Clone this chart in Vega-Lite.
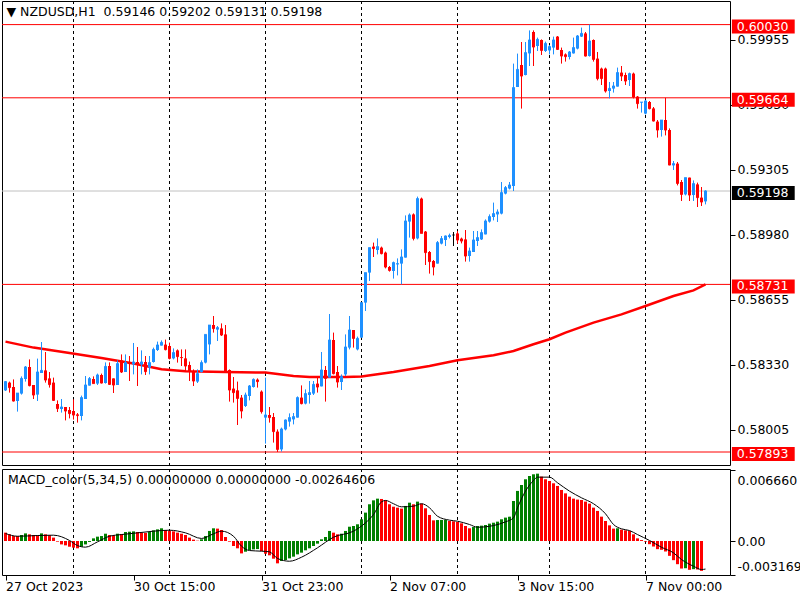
{
"$schema": "https://vega.github.io/schema/vega-lite/v6.json",
"padding": 0,
"background": "white",
"spacing": 2,
"config": {"view": {"stroke": "#000000", "strokeWidth": 1}, "font": "DejaVu Sans", "title": {"font": "DejaVu Sans", "fontSize": 12.5, "fontWeight": "normal", "color": "#000000"}},
"datasets": {
"bars": [
{"i":0,"o":0.58201,"h":0.58248,"l":0.58198,"c":0.58245,"m":0.00079,"t":"d"},
{"i":1,"o":0.58240,"h":0.58245,"l":0.58190,"c":0.58215,"m":0.00063,"t":"d"},
{"i":2,"o":0.58218,"h":0.58256,"l":0.58145,"c":0.58148,"m":0.00047,"t":"d"},
{"i":3,"o":0.58148,"h":0.58188,"l":0.58095,"c":0.58188,"m":0.00047,"t":"d"},
{"i":4,"o":0.58185,"h":0.58271,"l":0.58180,"c":0.58261,"m":0.00057,"t":"u"},
{"i":5,"o":0.58258,"h":0.58323,"l":0.58245,"c":0.58318,"m":0.00072,"t":"u"},
{"i":6,"o":0.58318,"h":0.58356,"l":0.58221,"c":0.58225,"m":0.00063,"t":"d"},
{"i":7,"o":0.58228,"h":0.58228,"l":0.58158,"c":0.58178,"m":0.00057,"t":"d"},
{"i":8,"o":0.58180,"h":0.58360,"l":0.58148,"c":0.58293,"m":0.00055,"t":"d"},
{"i":9,"o":0.58288,"h":0.58443,"l":0.58288,"c":0.58301,"m":0.00072,"t":"u"},
{"i":10,"o":0.58301,"h":0.58393,"l":0.58240,"c":0.58253,"m":0.00063,"t":"d"},
{"i":11,"o":0.58261,"h":0.58293,"l":0.58215,"c":0.58230,"m":0.00054,"t":"d"},
{"i":12,"o":0.58240,"h":0.58265,"l":0.58148,"c":0.58151,"m":0.00032,"t":"d"},
{"i":13,"o":0.58133,"h":0.58151,"l":0.58093,"c":0.58110,"m":-0.00006,"t":"d"},
{"i":14,"o":0.58108,"h":0.58158,"l":0.58090,"c":0.58118,"m":-0.00032,"t":"d"},
{"i":15,"o":0.58118,"h":0.58118,"l":0.58051,"c":0.58098,"m":-0.00041,"t":"d"},
{"i":16,"o":0.58103,"h":0.58118,"l":0.58061,"c":0.58085,"m":-0.00054,"t":"d"},
{"i":17,"o":0.58098,"h":0.58156,"l":0.58055,"c":0.58078,"m":-0.00063,"t":"d"},
{"i":18,"o":0.58081,"h":0.58088,"l":0.58040,"c":0.58075,"m":-0.00069,"t":"d"},
{"i":19,"o":0.58073,"h":0.58175,"l":0.58051,"c":0.58165,"m":-0.00054,"t":"u"},
{"i":20,"o":0.58158,"h":0.58273,"l":0.58158,"c":0.58228,"m":-0.00032,"t":"u"},
{"i":21,"o":0.58225,"h":0.58268,"l":0.58225,"c":0.58260,"m":-0.00009,"t":"u"},
{"i":22,"o":0.58258,"h":0.58271,"l":0.58235,"c":0.58235,"m":0.00025,"t":"u"},
{"i":23,"o":0.58235,"h":0.58285,"l":0.58228,"c":0.58278,"m":0.00041,"t":"u"},
{"i":24,"o":0.58278,"h":0.58285,"l":0.58235,"c":0.58238,"m":0.00047,"t":"u"},
{"i":25,"o":0.58238,"h":0.58341,"l":0.58235,"c":0.58321,"m":0.00069,"t":"u"},
{"i":26,"o":0.58323,"h":0.58341,"l":0.58228,"c":0.58231,"m":0.00057,"t":"d"},
{"i":27,"o":0.58261,"h":0.58261,"l":0.58188,"c":0.58228,"m":0.00054,"t":"d"},
{"i":28,"o":0.58228,"h":0.58351,"l":0.58228,"c":0.58335,"m":0.00069,"t":"u"},
{"i":29,"o":0.58351,"h":0.58381,"l":0.58288,"c":0.58293,"m":0.00066,"t":"d"},
{"i":30,"o":0.58293,"h":0.58381,"l":0.58293,"c":0.58340,"m":0.00085,"t":"u"},
{"i":31,"o":0.58340,"h":0.58373,"l":0.58248,"c":0.58335,"m":0.00088,"t":"u"},
{"i":32,"o":0.58331,"h":0.58438,"l":0.58281,"c":0.58343,"m":0.00091,"t":"u"},
{"i":33,"o":0.58343,"h":0.58418,"l":0.58223,"c":0.58331,"m":0.00085,"t":"d"},
{"i":34,"o":0.58330,"h":0.58401,"l":0.58281,"c":0.58343,"m":0.00079,"t":"d"},
{"i":35,"o":0.58343,"h":0.58373,"l":0.58278,"c":0.58295,"m":0.00076,"t":"d"},
{"i":36,"o":0.58315,"h":0.58373,"l":0.58281,"c":0.58340,"m":0.00085,"t":"u"},
{"i":37,"o":0.58343,"h":0.58415,"l":0.58340,"c":0.58406,"m":0.00101,"t":"u"},
{"i":38,"o":0.58403,"h":0.58445,"l":0.58398,"c":0.58428,"m":0.00110,"t":"u"},
{"i":39,"o":0.58425,"h":0.58451,"l":0.58425,"c":0.58441,"m":0.00120,"t":"u"},
{"i":40,"o":0.58430,"h":0.58455,"l":0.58401,"c":0.58405,"m":0.00104,"t":"d"},
{"i":41,"o":0.58423,"h":0.58440,"l":0.58356,"c":0.58361,"m":0.00095,"t":"d"},
{"i":42,"o":0.58361,"h":0.58411,"l":0.58356,"c":0.58390,"m":0.00091,"t":"d"},
{"i":43,"o":0.58401,"h":0.58406,"l":0.58340,"c":0.58370,"m":0.00079,"t":"d"},
{"i":44,"o":0.58368,"h":0.58406,"l":0.58323,"c":0.58365,"m":0.00069,"t":"d"},
{"i":45,"o":0.58361,"h":0.58406,"l":0.58295,"c":0.58323,"m":0.00057,"t":"d"},
{"i":46,"o":0.58328,"h":0.58345,"l":0.58248,"c":0.58298,"m":0.00032,"t":"d"},
{"i":47,"o":0.58298,"h":0.58306,"l":0.58223,"c":0.58248,"m":0.00013,"t":"d"},
{"i":48,"o":0.58245,"h":0.58306,"l":0.58238,"c":0.58285,"m":0.00003,"t":"d"},
{"i":49,"o":0.58293,"h":0.58351,"l":0.58290,"c":0.58340,"m":0.00016,"t":"u"},
{"i":50,"o":0.58340,"h":0.58481,"l":0.58336,"c":0.58481,"m":0.00047,"t":"u"},
{"i":51,"o":0.58431,"h":0.58528,"l":0.58381,"c":0.58528,"m":0.00095,"t":"u"},
{"i":52,"o":0.58528,"h":0.58573,"l":0.58490,"c":0.58510,"m":0.00120,"t":"u"},
{"i":53,"o":0.58505,"h":0.58523,"l":0.58448,"c":0.58515,"m":0.00117,"t":"d"},
{"i":54,"o":0.58511,"h":0.58536,"l":0.58473,"c":0.58478,"m":0.00104,"t":"d"},
{"i":55,"o":0.58481,"h":0.58528,"l":0.58298,"c":0.58298,"m":0.00038,"t":"d"},
{"i":56,"o":0.58303,"h":0.58306,"l":0.58145,"c":0.58203,"m":-0.00006,"t":"d"},
{"i":57,"o":0.58210,"h":0.58268,"l":0.58140,"c":0.58190,"m":-0.00047,"t":"d"},
{"i":58,"o":0.58201,"h":0.58245,"l":0.58028,"c":0.58161,"m":-0.00069,"t":"d"},
{"i":59,"o":0.58165,"h":0.58178,"l":0.58061,"c":0.58098,"m":-0.00117,"t":"d"},
{"i":60,"o":0.58123,"h":0.58190,"l":0.58118,"c":0.58178,"m":-0.00101,"t":"u"},
{"i":61,"o":0.58173,"h":0.58228,"l":0.58151,"c":0.58223,"m":-0.00085,"t":"u"},
{"i":62,"o":0.58218,"h":0.58261,"l":0.58215,"c":0.58256,"m":-0.00079,"t":"u"},
{"i":63,"o":0.58255,"h":0.58261,"l":0.58215,"c":0.58245,"m":-0.00076,"t":"u"},
{"i":64,"o":0.58195,"h":0.58201,"l":0.58085,"c":0.58095,"m":-0.00095,"t":"d"},
{"i":65,"o":0.58065,"h":0.58265,"l":0.57935,"c":0.58078,"m":-0.00120,"t":"d"},
{"i":66,"o":0.58078,"h":0.58118,"l":0.58040,"c":0.58065,"m":-0.00135,"t":"d"},
{"i":67,"o":0.58068,"h":0.58088,"l":0.57940,"c":0.57995,"m":-0.00167,"t":"d"},
{"i":68,"o":0.57995,"h":0.58006,"l":0.57893,"c":0.57906,"m":-0.00211,"t":"d"},
{"i":69,"o":0.57906,"h":0.58015,"l":0.57895,"c":0.58008,"m":-0.00189,"t":"u"},
{"i":70,"o":0.58006,"h":0.58056,"l":0.58001,"c":0.58053,"m":-0.00180,"t":"u"},
{"i":71,"o":0.58045,"h":0.58086,"l":0.58020,"c":0.58065,"m":-0.00164,"t":"u"},
{"i":72,"o":0.58056,"h":0.58088,"l":0.58031,"c":0.58070,"m":-0.00148,"t":"u"},
{"i":73,"o":0.58065,"h":0.58171,"l":0.58065,"c":0.58165,"m":-0.00126,"t":"u"},
{"i":74,"o":0.58165,"h":0.58226,"l":0.58131,"c":0.58135,"m":-0.00110,"t":"u"},
{"i":75,"o":0.58135,"h":0.58206,"l":0.58131,"c":0.58185,"m":-0.00088,"t":"u"},
{"i":76,"o":0.58178,"h":0.58248,"l":0.58135,"c":0.58190,"m":-0.00069,"t":"u"},
{"i":77,"o":0.58185,"h":0.58248,"l":0.58178,"c":0.58231,"m":-0.00047,"t":"u"},
{"i":78,"o":0.58235,"h":0.58265,"l":0.58190,"c":0.58218,"m":-0.00025,"t":"u"},
{"i":79,"o":0.58221,"h":0.58393,"l":0.58221,"c":0.58303,"m":0.00016,"t":"u"},
{"i":80,"o":0.58303,"h":0.58323,"l":0.58145,"c":0.58261,"m":0.00038,"t":"u"},
{"i":81,"o":0.58265,"h":0.58583,"l":0.58265,"c":0.58453,"m":0.00095,"t":"u"},
{"i":82,"o":0.58453,"h":0.58490,"l":0.58281,"c":0.58285,"m":0.00079,"t":"d"},
{"i":83,"o":0.58293,"h":0.58323,"l":0.58215,"c":0.58243,"m":0.00063,"t":"d"},
{"i":84,"o":0.58243,"h":0.58281,"l":0.58203,"c":0.58270,"m":0.00069,"t":"u"},
{"i":85,"o":0.58281,"h":0.58481,"l":0.58273,"c":0.58418,"m":0.00095,"t":"u"},
{"i":86,"o":0.58415,"h":0.58573,"l":0.58406,"c":0.58503,"m":0.00135,"t":"u"},
{"i":87,"o":0.58503,"h":0.58503,"l":0.58415,"c":0.58461,"m":0.00142,"t":"u"},
{"i":88,"o":0.58406,"h":0.58470,"l":0.58401,"c":0.58461,"m":0.00158,"t":"u"},
{"i":89,"o":0.58465,"h":0.58640,"l":0.58465,"c":0.58640,"m":0.00205,"t":"u"},
{"i":90,"o":0.58640,"h":0.58790,"l":0.58598,"c":0.58790,"m":0.00268,"t":"u"},
{"i":91,"o":0.58790,"h":0.58915,"l":0.58748,"c":0.58915,"m":0.00347,"t":"u"},
{"i":92,"o":0.58920,"h":0.58940,"l":0.58868,"c":0.58910,"m":0.00384,"t":"u"},
{"i":93,"o":0.58903,"h":0.58961,"l":0.58881,"c":0.58920,"m":0.00400,"t":"u"},
{"i":94,"o":0.58915,"h":0.58920,"l":0.58881,"c":0.58885,"m":0.00397,"t":"d"},
{"i":95,"o":0.58890,"h":0.58895,"l":0.58811,"c":0.58818,"m":0.00384,"t":"d"},
{"i":96,"o":0.58818,"h":0.58823,"l":0.58795,"c":0.58801,"m":0.00347,"t":"d"},
{"i":97,"o":0.58798,"h":0.58845,"l":0.58760,"c":0.58840,"m":0.00324,"t":"d"},
{"i":98,"o":0.58831,"h":0.58861,"l":0.58776,"c":0.58835,"m":0.00315,"t":"d"},
{"i":99,"o":0.58835,"h":0.58906,"l":0.58731,"c":0.58868,"m":0.00306,"t":"d"},
{"i":100,"o":0.58865,"h":0.59076,"l":0.58865,"c":0.59048,"m":0.00331,"t":"u"},
{"i":101,"o":0.59045,"h":0.59086,"l":0.58965,"c":0.59078,"m":0.00362,"t":"u"},
{"i":102,"o":0.59081,"h":0.59086,"l":0.58951,"c":0.58961,"m":0.00347,"t":"d"},
{"i":103,"o":0.58961,"h":0.59170,"l":0.58956,"c":0.59160,"m":0.00372,"t":"u"},
{"i":104,"o":0.59160,"h":0.59165,"l":0.58986,"c":0.58986,"m":0.00353,"t":"d"},
{"i":105,"o":0.58995,"h":0.58998,"l":0.58828,"c":0.58890,"m":0.00309,"t":"d"},
{"i":106,"o":0.58893,"h":0.58898,"l":0.58785,"c":0.58845,"m":0.00246,"t":"d"},
{"i":107,"o":0.58848,"h":0.58853,"l":0.58776,"c":0.58818,"m":0.00195,"t":"d"},
{"i":108,"o":0.58835,"h":0.58948,"l":0.58835,"c":0.58940,"m":0.00198,"t":"u"},
{"i":109,"o":0.58935,"h":0.58973,"l":0.58931,"c":0.58960,"m":0.00199,"t":"u"},
{"i":110,"o":0.58953,"h":0.58976,"l":0.58923,"c":0.58973,"m":0.00200,"t":"u"},
{"i":111,"o":0.58968,"h":0.58985,"l":0.58961,"c":0.58976,"m":0.00189,"t":"d"},
{"i":112,"o":0.58978,"h":0.58993,"l":0.58923,"c":0.58978,"m":0.00186,"t":"d"},
{"i":113,"o":0.58986,"h":0.58998,"l":0.58935,"c":0.58953,"m":0.00180,"t":"d"},
{"i":114,"o":0.58960,"h":0.58965,"l":0.58936,"c":0.58948,"m":0.00167,"t":"d"},
{"i":115,"o":0.58956,"h":0.59003,"l":0.58845,"c":0.58873,"m":0.00142,"t":"d"},
{"i":116,"o":0.58873,"h":0.58915,"l":0.58845,"c":0.58898,"m":0.00120,"t":"d"},
{"i":117,"o":0.58893,"h":0.58998,"l":0.58893,"c":0.58953,"m":0.00132,"t":"u"},
{"i":118,"o":0.58948,"h":0.58998,"l":0.58923,"c":0.58965,"m":0.00142,"t":"u"},
{"i":119,"o":0.58956,"h":0.59006,"l":0.58953,"c":0.58990,"m":0.00145,"t":"u"},
{"i":120,"o":0.58981,"h":0.59056,"l":0.58981,"c":0.59048,"m":0.00151,"t":"u"},
{"i":121,"o":0.59045,"h":0.59081,"l":0.59040,"c":0.59070,"m":0.00164,"t":"u"},
{"i":122,"o":0.59068,"h":0.59140,"l":0.59051,"c":0.59085,"m":0.00173,"t":"u"},
{"i":123,"o":0.59081,"h":0.59106,"l":0.59043,"c":0.59093,"m":0.00183,"t":"u"},
{"i":124,"o":0.59085,"h":0.59243,"l":0.59081,"c":0.59190,"m":0.00205,"t":"u"},
{"i":125,"o":0.59185,"h":0.59223,"l":0.59181,"c":0.59215,"m":0.00221,"t":"u"},
{"i":126,"o":0.59210,"h":0.59243,"l":0.59206,"c":0.59228,"m":0.00230,"t":"u"},
{"i":127,"o":0.59223,"h":0.59835,"l":0.59198,"c":0.59715,"m":0.00378,"t":"u"},
{"i":128,"o":0.59718,"h":0.59885,"l":0.59718,"c":0.59806,"m":0.00473,"t":"u"},
{"i":129,"o":0.59828,"h":0.59943,"l":0.59610,"c":0.59773,"m":0.00529,"t":"u"},
{"i":130,"o":0.59778,"h":0.59943,"l":0.59776,"c":0.59890,"m":0.00583,"t":"u"},
{"i":131,"o":0.59886,"h":0.60001,"l":0.59823,"c":0.59953,"m":0.00614,"t":"u"},
{"i":132,"o":0.59993,"h":0.60001,"l":0.59823,"c":0.59918,"m":0.00630,"t":"u"},
{"i":133,"o":0.59923,"h":0.59965,"l":0.59898,"c":0.59956,"m":0.00636,"t":"u"},
{"i":134,"o":0.59953,"h":0.59956,"l":0.59878,"c":0.59901,"m":0.00608,"t":"d"},
{"i":135,"o":0.59898,"h":0.59945,"l":0.59893,"c":0.59936,"m":0.00583,"t":"d"},
{"i":136,"o":0.59901,"h":0.59928,"l":0.59881,"c":0.59920,"m":0.00567,"t":"d"},
{"i":137,"o":0.59915,"h":0.59970,"l":0.59881,"c":0.59953,"m":0.00545,"t":"d"},
{"i":138,"o":0.59970,"h":0.59973,"l":0.59903,"c":0.59906,"m":0.00520,"t":"d"},
{"i":139,"o":0.59903,"h":0.59915,"l":0.59835,"c":0.59873,"m":0.00482,"t":"d"},
{"i":140,"o":0.59881,"h":0.59886,"l":0.59845,"c":0.59870,"m":0.00450,"t":"d"},
{"i":141,"o":0.59868,"h":0.59898,"l":0.59856,"c":0.59893,"m":0.00419,"t":"d"},
{"i":142,"o":0.59886,"h":0.59965,"l":0.59885,"c":0.59915,"m":0.00400,"t":"d"},
{"i":143,"o":0.59910,"h":0.59978,"l":0.59906,"c":0.59973,"m":0.00391,"t":"d"},
{"i":144,"o":0.59970,"h":0.60015,"l":0.59968,"c":0.59986,"m":0.00387,"t":"d"},
{"i":145,"o":0.59986,"h":0.59993,"l":0.59870,"c":0.59873,"m":0.00372,"t":"d"},
{"i":146,"o":0.59873,"h":0.60030,"l":0.59870,"c":0.59948,"m":0.00353,"t":"d"},
{"i":147,"o":0.59953,"h":0.59956,"l":0.59845,"c":0.59856,"m":0.00315,"t":"d"},
{"i":148,"o":0.59860,"h":0.59893,"l":0.59751,"c":0.59760,"m":0.00284,"t":"d"},
{"i":149,"o":0.59810,"h":0.59815,"l":0.59728,"c":0.59760,"m":0.00230,"t":"d"},
{"i":150,"o":0.59810,"h":0.59815,"l":0.59690,"c":0.59698,"m":0.00189,"t":"d"},
{"i":151,"o":0.59698,"h":0.59743,"l":0.59661,"c":0.59711,"m":0.00148,"t":"d"},
{"i":152,"o":0.59710,"h":0.59743,"l":0.59690,"c":0.59723,"m":0.00117,"t":"d"},
{"i":153,"o":0.59720,"h":0.59815,"l":0.59720,"c":0.59790,"m":0.00120,"t":"u"},
{"i":154,"o":0.59790,"h":0.59823,"l":0.59748,"c":0.59773,"m":0.00107,"t":"d"},
{"i":155,"o":0.59778,"h":0.59790,"l":0.59728,"c":0.59748,"m":0.00101,"t":"d"},
{"i":156,"o":0.59753,"h":0.59790,"l":0.59723,"c":0.59785,"m":0.00095,"t":"d"},
{"i":157,"o":0.59785,"h":0.59790,"l":0.59661,"c":0.59668,"m":0.00063,"t":"d"},
{"i":158,"o":0.59670,"h":0.59673,"l":0.59610,"c":0.59635,"m":0.00025,"t":"d"},
{"i":159,"o":0.59640,"h":0.59643,"l":0.59590,"c":0.59643,"m":0.00009,"t":"d"},
{"i":160,"o":0.59585,"h":0.59653,"l":0.59581,"c":0.59648,"m":-0.00006,"t":"d"},
{"i":161,"o":0.59643,"h":0.59648,"l":0.59606,"c":0.59610,"m":-0.00030,"t":"d"},
{"i":162,"o":0.59611,"h":0.59618,"l":0.59545,"c":0.59548,"m":-0.00052,"t":"d"},
{"i":163,"o":0.59545,"h":0.59553,"l":0.59465,"c":0.59503,"m":-0.00077,"t":"d"},
{"i":164,"o":0.59503,"h":0.59553,"l":0.59470,"c":0.59553,"m":-0.00083,"t":"d"},
{"i":165,"o":0.59553,"h":0.59664,"l":0.59476,"c":0.59503,"m":-0.00099,"t":"d"},
{"i":166,"o":0.59503,"h":0.59511,"l":0.59326,"c":0.59328,"m":-0.00140,"t":"d"},
{"i":167,"o":0.59326,"h":0.59348,"l":0.59303,"c":0.59335,"m":-0.00181,"t":"d"},
{"i":168,"o":0.59335,"h":0.59343,"l":0.59226,"c":0.59236,"m":-0.00219,"t":"d"},
{"i":169,"o":0.59243,"h":0.59253,"l":0.59148,"c":0.59181,"m":-0.00260,"t":"d"},
{"i":170,"o":0.59181,"h":0.59265,"l":0.59176,"c":0.59265,"m":-0.00257,"t":"u"},
{"i":171,"o":0.59265,"h":0.59265,"l":0.59148,"c":0.59178,"m":-0.00272,"t":"d"},
{"i":172,"o":0.59178,"h":0.59251,"l":0.59148,"c":0.59235,"m":-0.00266,"t":"u"},
{"i":173,"o":0.59231,"h":0.59240,"l":0.59118,"c":0.59165,"m":-0.00269,"t":"d"},
{"i":174,"o":0.59165,"h":0.59218,"l":0.59123,"c":0.59143,"m":-0.00282,"t":"d"},
{"i":175,"o":0.59146,"h":0.59202,"l":0.59131,"c":0.59198,"m":null,"t":"d"}
],
"ma": [
{"i":0,"v":0.58445},{"i":7,"v":0.58415},{"i":16,"v":0.58388},{"i":24,"v":0.58363},{"i":32,"v":0.58335},{"i":39,"v":0.58307},{"i":45,"v":0.58297},{"i":55,"v":0.58293},{"i":65,"v":0.58290},{"i":72,"v":0.58273},{"i":76,"v":0.58268},{"i":85,"v":0.58268},{"i":89,"v":0.58270},{"i":97,"v":0.58293},{"i":106,"v":0.58323},{"i":113,"v":0.58352},{"i":122,"v":0.58377},{"i":127,"v":0.58398},{"i":132,"v":0.58432},{"i":136,"v":0.58457},{"i":140,"v":0.58490},{"i":147,"v":0.58540},{"i":154,"v":0.58581},{"i":160,"v":0.58623},{"i":167,"v":0.58673},{"i":172,"v":0.58701},{"i":175,"v":0.58731}
],
"sig": [
{"i":0,"s":0.00071},{"i":3,"s":0.00045},{"i":8,"s":0.00052},{"i":12,"s":0.00055},{"i":16,"s":0.00005},{"i":18,"s":-0.00043},{"i":20,"s":-0.00058},{"i":23,"s":-0.00008},{"i":26,"s":0.00045},{"i":29,"s":0.00061},{"i":33,"s":0.00077},{"i":37,"s":0.00093},{"i":41,"s":0.00102},{"i":45,"s":0.00077},{"i":49,"s":0.00024},{"i":52,"s":0.00068},{"i":54,"s":0.00093},{"i":57,"s":0.00045},{"i":59,"s":-0.00049},{"i":61,"s":-0.00090},{"i":64,"s":-0.00096},{"i":66,"s":-0.00102},{"i":68,"s":-0.00165},{"i":71,"s":-0.00191},{"i":74,"s":-0.00153},{"i":78,"s":-0.00064},{"i":82,"s":0.00036},{"i":87,"s":0.00093},{"i":90,"s":0.00172},{"i":92,"s":0.00250},{"i":94,"s":0.00370},{"i":95,"s":0.00383},{"i":97,"s":0.00352},{"i":99,"s":0.00323},{"i":102,"s":0.00329},{"i":104,"s":0.00352},{"i":106,"s":0.00314},{"i":108,"s":0.00234},{"i":111,"s":0.00197},{"i":113,"s":0.00187},{"i":116,"s":0.00156},{"i":118,"s":0.00130},{"i":122,"s":0.00146},{"i":125,"s":0.00181},{"i":127,"s":0.00219},{"i":128,"s":0.00314},{"i":130,"s":0.00471},{"i":132,"s":0.00572},{"i":133,"s":0.00603},{"i":136,"s":0.00603},{"i":138,"s":0.00550},{"i":141,"s":0.00471},{"i":144,"s":0.00408},{"i":147,"s":0.00352},{"i":150,"s":0.00257},{"i":152,"s":0.00156},{"i":154,"s":0.00115},{"i":156,"s":0.00099},{"i":158,"s":0.00061},{"i":161,"s":0.00005},{"i":164,"s":-0.00059},{"i":167,"s":-0.00112},{"i":169,"s":-0.00175},{"i":172,"s":-0.00238},{"i":174,"s":-0.00269},{"i":175,"s":-0.00265}
],
"days": [{"i":17},{"i":41},{"i":65},{"i":89},{"i":113},{"i":136},{"i":160}],
"levels": [
{"p":0.60030,"k":"level"},{"p":0.59664,"k":"level"},{"p":0.58731,"k":"level"},{"p":0.57893,"k":"level"},{"p":0.59198,"k":"bid"}
]
},
"vconcat": [
{
"width": 728, "height": 464,
"title": {"text": "▼ NZDUSD,H1\u00a0 0.59146 0.59202 0.59131 0.59198", "anchor": "start", "offset": -18, "dx": 6},
"layer": [
{"data": {"name": "days"}, "mark": {"type": "rule", "color": "#000000", "strokeDash": [3, 3], "strokeWidth": 1},
 "encoding": {"x": {"field": "i", "type": "quantitative", "scale": {"domain": [-0.875, 181.125], "nice": false, "zero": false, "padding": 0}, "axis": null}}},
{"data": {"name": "levels"}, "mark": {"type": "rule", "strokeWidth": 1},
 "encoding": {"y": {"field": "p", "type": "quantitative", "scale": {"domain": [0.57828, 0.60148], "nice": false, "zero": false, "padding": 0},
   "axis": {"orient": "right", "title": null, "values": [0.59955, 0.5963, 0.59305, 0.5898, 0.58655, 0.5833, 0.58005], "format": ".5f", "domain": false, "grid": false, "tickSize": 5, "tickColor": "#000000", "labelPadding": 2, "labelFontSize": 12.5, "labelFont": "DejaVu Sans", "labelColor": "#000000", "zindex": 0}},
  "color": {"field": "k", "type": "nominal", "scale": {"domain": ["level", "bid"], "range": ["#FF0000", "#C0C0C0"]}, "legend": null}}},
{"data": {"name": "ma"}, "mark": {"type": "line", "color": "#FF0000", "strokeWidth": 2.5},
 "encoding": {"x": {"field": "i", "type": "quantitative", "axis": null}, "y": {"field": "v", "type": "quantitative"}}},
{"data": {"name": "bars"}, "mark": {"type": "rule", "strokeWidth": 1},
 "encoding": {"x": {"field": "i", "type": "quantitative", "axis": null},
  "y": {"field": "l", "type": "quantitative"}, "y2": {"field": "h"},
  "color": {"condition": [{"test": "datum.c > datum.o", "value": "#1E90FF"}, {"test": "datum.c < datum.o", "value": "#FF0000"}], "value": "#000000"}}},
{"data": {"name": "bars"}, "mark": {"type": "bar", "size": 3},
 "encoding": {"x": {"field": "i", "type": "quantitative", "axis": null},
  "y": {"field": "o", "type": "quantitative"},
  "y2": {"field": "c"},
  "color": {"condition": [{"test": "datum.c > datum.o", "value": "#1E90FF"}, {"test": "datum.c < datum.o", "value": "#FF0000"}], "value": "#000000"}}},
{"data": {"name": "bars"}, "mark": {"type": "tick", "orient": "horizontal", "size": 3, "thickness": 1},
 "encoding": {"x": {"field": "i", "type": "quantitative", "axis": null},
  "y": {"field": "c", "type": "quantitative"},
  "color": {"condition": [{"test": "datum.c > datum.o", "value": "#1E90FF"}, {"test": "datum.c < datum.o", "value": "#FF0000"}], "value": "#000000"}}},
{"data": {"name": "levels"}, "mark": {"type": "rect", "yOffset": -5, "y2Offset": 9},
 "encoding": {"x": {"datum": 181.6, "axis": null}, "x2": {"datum": 197.3},
  "y": {"field": "p", "type": "quantitative"}, "y2": {"field": "p"},
  "color": {"field": "k", "type": "nominal", "scale": {"domain": ["level", "bid"], "range": ["#FF0000", "#000000"]}, "legend": null}}},
{"data": {"name": "levels"}, "mark": {"type": "text", "align": "left", "baseline": "middle", "dy": 2, "color": "#FFFFFF", "fontSize": 12.5, "font": "DejaVu Sans"},
 "encoding": {"x": {"datum": 182.8, "axis": null}, "y": {"field": "p", "type": "quantitative"},
  "text": {"field": "p", "type": "quantitative", "format": ".5f"}}}
],
"resolve": {"scale": {"color": "independent"}}
},
{
"width": 728, "height": 106,
"title": {"text": "MACD_color(5,34,5) 0.00000000 0.00000000 -0.00264606", "anchor": "start", "offset": -18, "dx": 6},
"layer": [
{"data": {"name": "days"}, "mark": {"type": "rule", "color": "#000000", "strokeDash": [3, 3], "strokeWidth": 1},
 "encoding": {"x": {"field": "i", "type": "quantitative", "scale": {"domain": [-0.875, 181.125], "nice": false, "zero": false, "padding": 0},
   "axis": {"orient": "bottom", "title": null, "values": [0, 32, 64, 96, 128, 160], "labelExpr": "datum.value == 0 ? '27 Oct 2023' : datum.value == 32 ? '30 Oct 15:00' : datum.value == 64 ? '31 Oct 23:00' : datum.value == 96 ? '2 Nov 07:00' : datum.value == 128 ? '3 Nov 15:00' : '7 Nov 00:00'", "labelAlign": "left", "labelPadding": 0, "tickSize": 5, "tickColor": "#000000", "domain": false, "grid": false, "labelFontSize": 12.5, "labelFont": "DejaVu Sans", "labelColor": "#000000", "labelFlush": false, "labelOverlap": false}}}},
{"data": {"name": "bars"}, "mark": {"type": "bar", "size": 3},
 "encoding": {"x": {"field": "i", "type": "quantitative"},
  "y": {"field": "m", "type": "quantitative", "scale": {"domain": [-0.00321, 0.0068], "nice": false, "zero": false, "padding": 0},
   "axis": {"orient": "right", "title": null, "values": [0.00666, 0, -0.0031699], "labelExpr": "datum.value == 0 ? '0.00' : datum.value > 0 ? '0.006660' : '-0.0031699'", "domain": false, "grid": false, "tickSize": 5, "tickColor": "#000000", "labelPadding": 2, "labelFontSize": 12.5, "labelFont": "DejaVu Sans", "labelColor": "#000000", "labelOffset": {"condition": [{"test": "datum.value > 0.001", "value": 10}, {"test": "datum.value < -0.001", "value": -8}], "value": 0}}},
  "y2": {"datum": 0},
  "color": {"field": "t", "type": "nominal", "scale": {"domain": ["u", "d"], "range": ["#008000", "#FF0000"]}, "legend": null}}},
{"data": {"name": "sig"}, "mark": {"type": "line", "color": "#000000", "strokeWidth": 1, "interpolate": "monotone"},
 "encoding": {"x": {"field": "i", "type": "quantitative"}, "y": {"field": "s", "type": "quantitative"}}}
]
}
]
}
